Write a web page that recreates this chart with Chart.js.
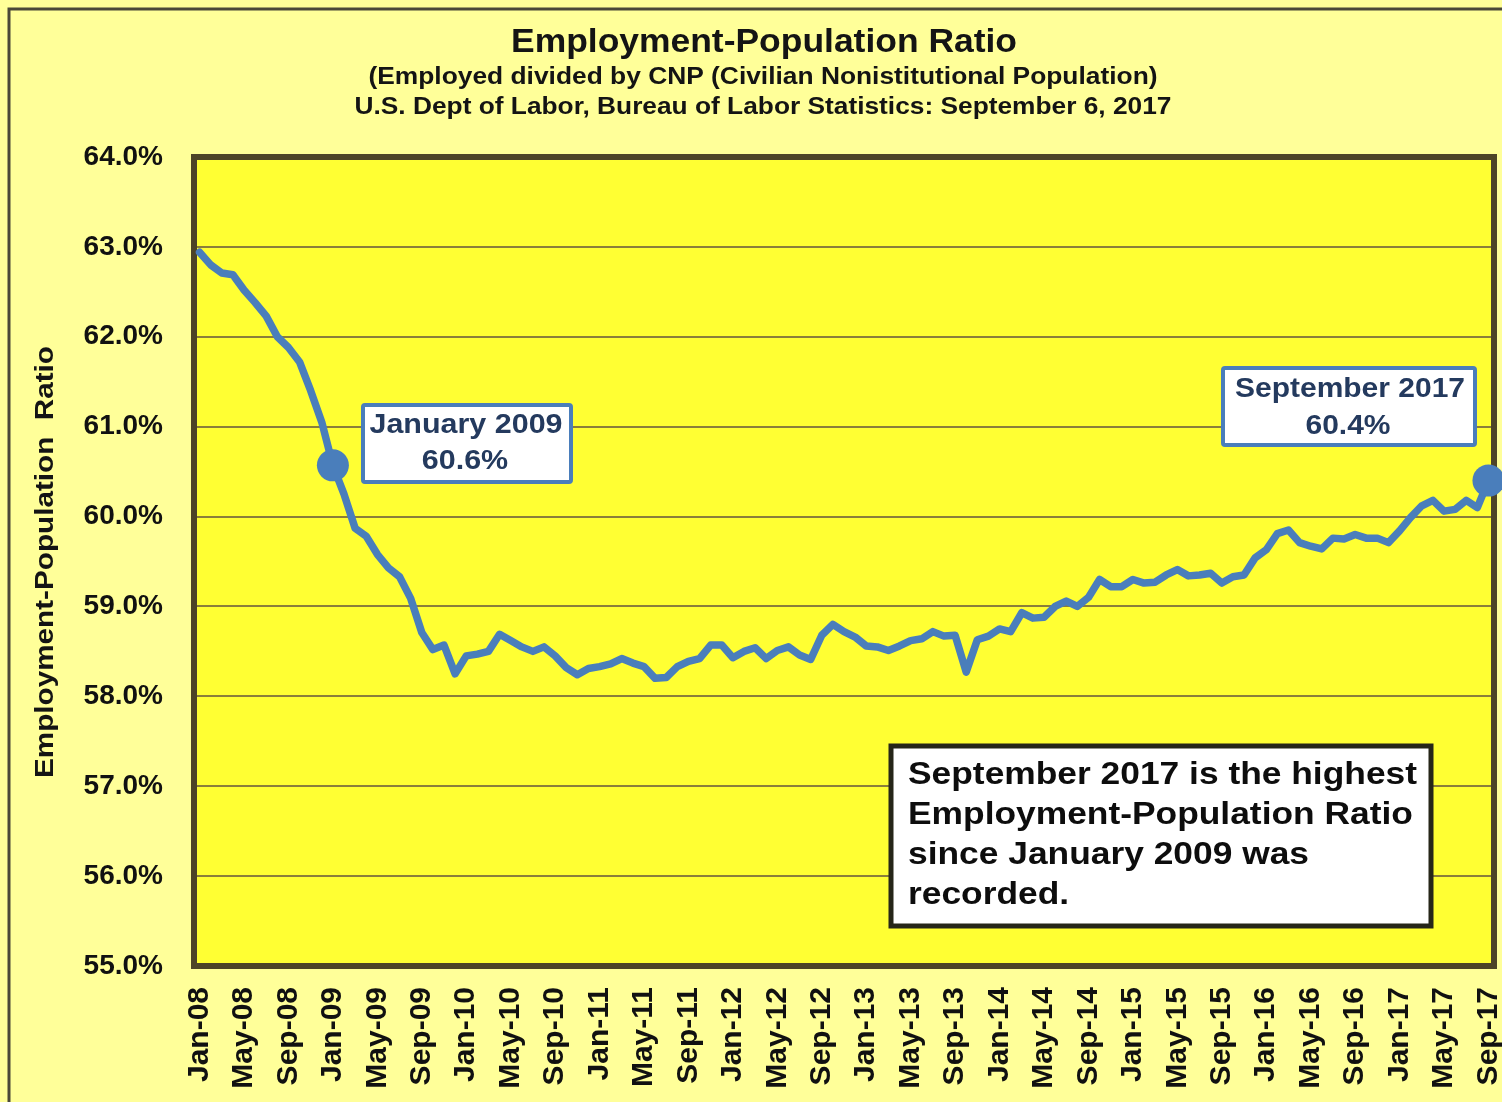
<!DOCTYPE html>
<html>
<head>
<meta charset="utf-8">
<title>Employment-Population Ratio</title>
<script src="https://cdn.jsdelivr.net/npm/chart.js@4.4.1/dist/chart.umd.min.js"></script>
<style>
  html,body{margin:0;padding:0;background:#ffff99;}
  canvas{display:block;}
</style>
</head>
<body>
<canvas id="chartEpop" width="1502" height="1102"></canvas>
<script>
// month labels Jan-08 .. Sep-17
const MONTHS = ['Jan','Feb','Mar','Apr','May','Jun','Jul','Aug','Sep','Oct','Nov','Dec'];
const YEARS = ['08','09','10','11','12','13','14','15','16','17'];
const LAST_MONTH = 9;

// employment-population ratio, %
const epop2008 = [62.94, 62.80, 62.71, 62.69, 62.52, 62.38, 62.23, 62.00, 61.88, 61.72, 61.40, 61.05];
const epop2009 = [60.57, 60.25, 59.87, 59.78, 59.58, 59.43, 59.33, 59.09, 58.71, 58.52, 58.57, 58.25];
const epop2010 = [58.45, 58.47, 58.50, 58.69, 58.62, 58.55, 58.50, 58.55, 58.45, 58.32, 58.24, 58.31];
const epop2011 = [58.33, 58.36, 58.42, 58.37, 58.33, 58.20, 58.21, 58.33, 58.39, 58.42, 58.57, 58.57];
const epop2012 = [58.43, 58.50, 58.54, 58.42, 58.51, 58.55, 58.46, 58.41, 58.68, 58.80, 58.72, 58.66];
const epop2013 = [58.56, 58.55, 58.51, 58.56, 58.62, 58.64, 58.72, 58.67, 58.68, 58.27, 58.63, 58.67];
const epop2014 = [58.75, 58.72, 58.93, 58.87, 58.88, 59.00, 59.06, 59.00, 59.10, 59.30, 59.22, 59.22];
const epop2015 = [59.30, 59.26, 59.27, 59.35, 59.41, 59.34, 59.35, 59.37, 59.26, 59.33, 59.35, 59.54];
const epop2016 = [59.63, 59.81, 59.85, 59.71, 59.67, 59.64, 59.76, 59.75, 59.80, 59.76, 59.76, 59.71];
const epop2017 = [59.84, 59.99, 60.12, 60.18, 60.06, 60.08, 60.18, 60.10, 60.40];

const highlightIdx = [12, 116]; // Jan-09, Sep-17

const labels = [];
YEARS.forEach((y, yi) => MONTHS.forEach((m, mi) => {
  if(yi < YEARS.length - 1 || mi < LAST_MONTH) labels.push(m + '-' + y);
}));
const epop = [].concat(epop2008, epop2009, epop2010, epop2011, epop2012,
                       epop2013, epop2014, epop2015, epop2016, epop2017);

const FONT = '"Liberation Sans", Arial, Helvetica, sans-serif';
const BLUE = '#4a7ebb';

function fitText(ctx, txt, x, y, size, width, align, sx){
  ctx.font = 'bold ' + size + 'px ' + FONT;
  if(!sx) sx = width ? width / ctx.measureText(txt).width : 1;
  ctx.save();
  ctx.translate(x, y);
  ctx.scale(sx, 1);
  ctx.textAlign = align || 'center';
  ctx.textBaseline = 'middle';
  ctx.fillText(txt, 0, 0);
  ctx.restore();
  return sx;
}

function box(ctx, x1, y1, x2, y2, color, lw, r){
  ctx.save();
  ctx.beginPath();
  ctx.roundRect(x1, y1, x2 - x1, y2 - y1, r || 0);
  ctx.fillStyle = '#ffffff';
  ctx.fill();
  ctx.lineWidth = lw;
  ctx.strokeStyle = color;
  ctx.stroke();
  ctx.restore();
}

const decor = {
  id: 'decor',
  beforeDraw(chart){
    const {ctx, chartArea: a, width, height} = chart;
    ctx.save();
    ctx.fillStyle = '#ffff99';
    ctx.fillRect(0, 0, width, height);
    ctx.strokeStyle = '#4a4838';
    ctx.lineWidth = 3;
    ctx.beginPath();
    ctx.moveTo(9, height); ctx.lineTo(9, 9); ctx.lineTo(width, 9);
    ctx.stroke();
    ctx.fillStyle = '#ffff33';
    ctx.fillRect(a.left, a.top, a.right - a.left, a.bottom - a.top);
    ctx.restore();
  },
  beforeDatasetsDraw(chart){
    const {ctx, chartArea: a} = chart;
    ctx.save();
    ctx.strokeStyle = '#4d4427';
    ctx.lineWidth = 6;
    ctx.strokeRect(a.left, a.top, a.right - a.left, a.bottom - a.top);
    ctx.restore();
  },
  afterDraw(chart){
    const ctx = chart.ctx;
    ctx.save();
    ctx.fillStyle = '#141414';
    fitText(ctx, 'Employment-Population Ratio', 764, 43, 33, 506);
    fitText(ctx, '(Employed divided by CNP (Civilian Nonistitutional Population)', 763, 78, 23, 789);
    fitText(ctx, 'U.S. Dept of Labor, Bureau of Labor Statistics: September 6, 2017', 763, 108, 23, 817);

    // y axis title
    ctx.save();
    ctx.translate(46, 562);
    ctx.rotate(-Math.PI / 2);
    fitText(ctx, 'Employment-Population  Ratio', 0, 0, 25, 432);
    ctx.restore();

    // callouts
    box(ctx, 363, 405, 571, 482, BLUE, 4, 2);
    box(ctx, 1223, 368, 1475, 445, BLUE, 4, 2);
    ctx.fillStyle = '#243a5e';
    let s = fitText(ctx, 'January 2009', 466, 425, 28, 193);
    fitText(ctx, '60.6%', 465, 461, 28, 0, 'center', s);
    s = fitText(ctx, 'September 2017', 1350, 389, 28, 230);
    fitText(ctx, '60.4%', 1348, 426, 28, 0, 'center', s);

    // note
    box(ctx, 891, 746, 1431, 926, '#262619', 5, 0);
    ctx.fillStyle = '#0d0d0d';
    s = fitText(ctx, 'September 2017 is the highest', 908, 775, 31, 509, 'left');
    fitText(ctx, 'Employment-Population Ratio', 908, 815, 31, 0, 'left', s);
    fitText(ctx, 'since January 2009 was', 908, 855, 31, 0, 'left', s);
    fitText(ctx, 'recorded.', 908, 895, 31, 0, 'left', s);
    ctx.restore();
  }
};

new Chart(document.getElementById('chartEpop').getContext('2d'), {
  type: 'line',
  data: {
    labels: labels,
    datasets: [{
      label: 'Employment-Population Ratio',
      data: epop,
      borderColor: BLUE,
      borderWidth: 7.5,
      borderJoinStyle: 'round',
      borderCapStyle: 'round',
      tension: 0,
      clip: false,
      pointRadius: c => highlightIdx.includes(c.dataIndex) ? 16 : 0,
      pointHoverRadius: c => highlightIdx.includes(c.dataIndex) ? 16 : 0,
      pointBackgroundColor: BLUE,
      pointBorderWidth: 0
    }]
  },
  options: {
    responsive: false,
    animation: false,
    devicePixelRatio: 1,
    layout: { autoPadding: false, padding: { left: 0, top: 157, right: 8, bottom: 0 } },
    plugins: { legend: { display: false }, tooltip: { enabled: false } },
    scales: {
      x: {
        offset: true,
        grid: { display: false, drawTicks: false },
        border: { display: false },
        ticks: {
          autoSkip: false, maxRotation: 90, minRotation: 90, padding: 21,
          color: '#111', font: { family: FONT, size: 30, weight: 'bold' },
          callback: (v, i) => i % 4 === 0 ? labels[i] : null
        },
        afterFit: s => { s.height = 136; s.paddingLeft = 0; s.paddingRight = 0; }
      },
      y: {
        min: 55, max: 64,
        grid: { color: '#8a7e3a', lineWidth: 2, drawTicks: false },
        border: { display: false },
        ticks: {
          stepSize: 1, padding: 31,
          color: '#111', font: { family: FONT, size: 28, weight: 'bold' },
          callback: v => v.toFixed(1) + '%'
        },
        afterFit: s => { s.width = 194; s.paddingTop = 0; s.paddingBottom = 0; }
      }
    }
  },
  plugins: [decor]
});
</script>
</body>
</html>
